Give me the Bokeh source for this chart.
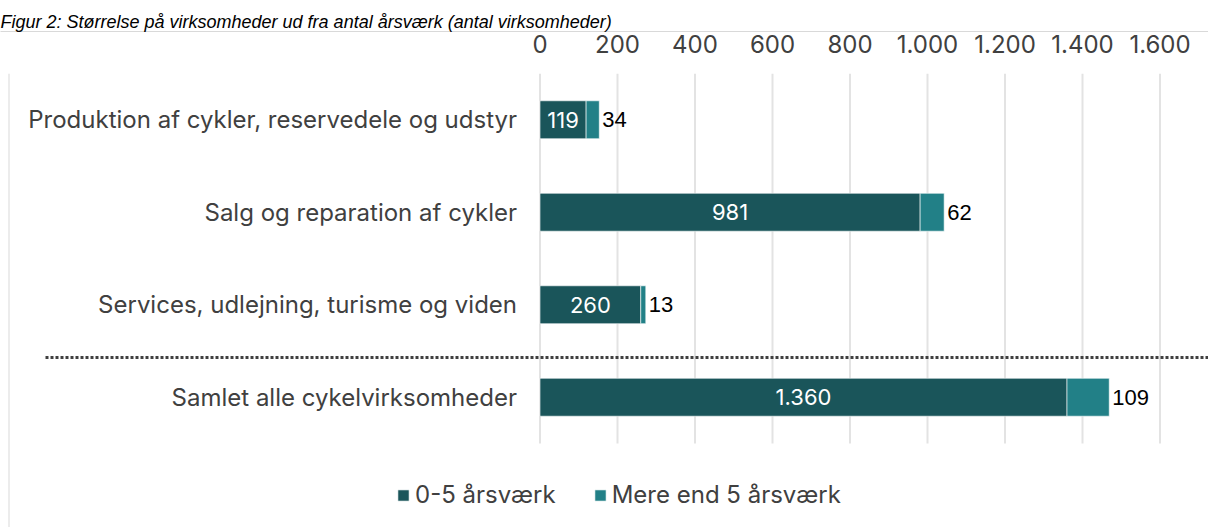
from bokeh.plotting import figure
from bokeh.models import (ColumnDataSource, Range1d, FixedTicker, LinearAxis,
                          CustomJSTickFormatter, Legend, LegendItem)
from bokeh.embed import file_html
from bokeh.resources import INLINE
from bokeh.core.properties import value

title_text = "Figur 2: Størrelse på virksomheder ud fra antal årsværk (antal virksomheder)"
categories = ["Produktion af cykler, reservedele og udstyr",
              "Salg og reparation af cykler",
              "Services, udlejning, turisme og viden",
              "Samlet alle cykelvirksomheder"]
small_firms = [119, 981, 260, 1360]      # 0-5 årsværk
large_firms = [34, 62, 13, 109]          # Mere end 5 årsværk
series_names = ["0-5 årsværk", "Mere end 5 årsværk"]
tick_values = [0, 200, 400, 600, 800, 1000, 1200, 1400, 1600]

DARK = "#1A555A"
TEAL = "#228087"
TXT = "#404040"
FONT = "Inter"


def fmt(v):
    return f"{v:,}".replace(",", ".")


n = len(categories)
ypos = [n - 1 - i for i in range(n)]          # top row first
src = ColumnDataSource(dict(
    cat=categories,
    y=ypos,
    small=small_firms,
    large=large_firms,
    total=[a + b for a, b in zip(small_firms, large_firms)],
    mid=[a / 2 for a in small_firms],
    small_lbl=[fmt(v) for v in small_firms],
    large_lbl=[fmt(v) for v in large_firms],
    zero=[0] * n,
))

W, H = 1208, 527
TOP = 73                                   # canvas px above the plot frame
px_per_unit = (1159.5 - 539.5) / 1600.0
x0_canvas = 539.5
x_start = -x0_canvas / px_per_unit
x_end = (W - x0_canvas) / px_per_unit
row_px = 92.5
frame_h = H - TOP
y_end = (n - 1) + 0.5
y_start = y_end - frame_h / row_px

p = figure(width=W, height=H, output_backend="svg", toolbar_location=None,
           x_range=Range1d(x_start, x_end), y_range=Range1d(y_start, y_end),
           x_axis_location="above", y_axis_location=None,
           title=title_text,
           min_border_left=0, min_border_right=0, min_border_top=TOP,
           min_border_bottom=0)
p.outline_line_color = None
p.title.text_font = "Liberation Sans"
p.title.text_font_style = "italic"
p.title.text_font_size = "18px"
p.title.text_color = "black"
p.title.standoff = 0

ax = p.xaxis[0]
ax.ticker = FixedTicker(ticks=tick_values)
ax.formatter = CustomJSTickFormatter(
    code='return tick.toFixed(0).replace(/\\B(?=(\\d{3})+(?!\\d))/g, ".");')
ax.axis_line_color = None
ax.major_tick_line_color = None
ax.minor_tick_line_color = None
ax.major_tick_out = 0
ax.major_label_standoff = 21
ax.major_label_text_font = FONT
ax.major_label_text_font_size = "24px"
ax.major_label_text_color = TXT

# thin chart-area border line along the top
border_axis = LinearAxis(ticker=FixedTicker(ticks=[]), axis_line_color="#d9d9d9",
                         axis_line_width=1, major_tick_line_color=None,
                         minor_tick_line_color=None, major_tick_out=0,
                         major_label_standoff=0, major_label_text_font_size="0px")
p.add_layout(border_axis, "above")

p.xgrid.grid_line_color = None
p.ygrid.grid_line_color = None

# vertical grid lines at the tick values, spanning the category rows only
grid = ColumnDataSource(dict(x=tick_values, y0=[-0.5] * len(tick_values),
                             y1=[n - 0.5] * len(tick_values)))
p.segment(x0="x", y0="y0", x1="x", y1="y1", source=grid,
          line_color="#e3e3e3", line_width=2)

# left border of the chart area
bx = (8.5 - x0_canvas) / px_per_unit
p.segment(x0=[bx], y0=[y_start], x1=[bx], y1=[y_end], line_color="#d9d9d9", line_width=1)

r1 = p.hbar(y="y", left="zero", right="small", height=0.41, source=src,
            fill_color=DARK, line_color="white", line_width=0.6)
r2 = p.hbar(y="y", left="small", right="total", height=0.41, source=src,
            fill_color=TEAL, line_color="white", line_width=0.6)

p.text(x="zero", y="y", text="cat", source=src, x_offset=-23,
       text_align="right", text_baseline="middle", text_font=value(FONT),
       text_font_size="24px", text_color=TXT)
p.text(x="mid", y="y", text="small_lbl", source=src,
       text_align="center", text_baseline="middle", text_font=value(FONT),
       text_font_size="22px", text_color="white")
p.text(x="total", y="y", text="large_lbl", source=src, x_offset=3,
       text_align="left", text_baseline="middle", text_font=value("Liberation Sans"),
       text_font_size="22px", text_color="black")

# dotted separator between the sectors and the total
sep_y = 0.43
p.segment(x0=[(45 - x0_canvas) / px_per_unit], y0=[sep_y], x1=[x_end], y1=[sep_y],
          line_color=TXT, line_width=3, line_dash="3 2")

legend = Legend(items=[LegendItem(label=series_names[0], renderers=[r1]),
                       LegendItem(label=series_names[1], renderers=[r2])],
                orientation="horizontal", location=(396, 18))
legend.label_text_font = FONT
legend.label_text_font_size = "24px"
legend.label_text_color = TXT
legend.glyph_width = 14
legend.glyph_height = 14
legend.label_standoff = 5
legend.spacing = 37
legend.border_line_color = None
legend.background_fill_alpha = 0
legend.padding = 0
legend.margin = 0
p.add_layout(legend)

open("out.html", "w").write(file_html(p, INLINE))
